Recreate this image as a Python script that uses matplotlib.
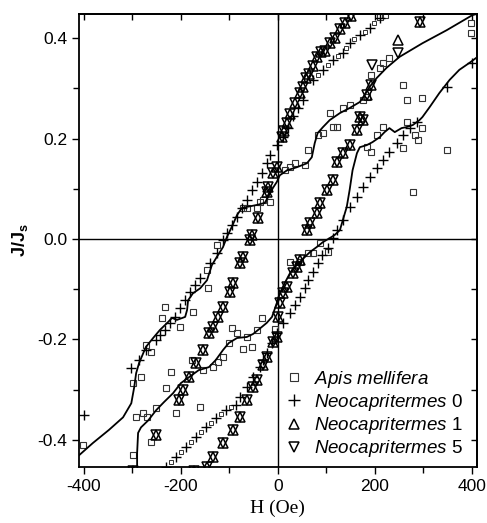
import numpy as np
import matplotlib
matplotlib.use('Agg')
import matplotlib.pyplot as plt
from matplotlib.ticker import MultipleLocator

plt.rcParams['font.family'] = ['Liberation Sans', 'DejaVu Sans']
plt.rcParams['axes.unicode_minus'] = False
plt.rcParams['mathtext.fontset'] = 'custom'
plt.rcParams['mathtext.it'] = 'Liberation Sans:italic'
plt.rcParams['mathtext.rm'] = 'Liberation Sans'
plt.rcParams['mathtext.bf'] = 'Liberation Sans:bold'

# ---- Apis mellifera : fitted loop (two branches) ----
apis_dn_h = [409, 401, 348, 298, 251, 224, 204, 189, 179, 169, 148, 128, 107, 93, 82, 76, 70, 60, 39, 19, 4, -2,
             -10, -21, -27, -43, -64, -74, -84, -95, -105, -113, -126, -136, -146, -160, -175, -185, -187, -191,
             -208, -218, -228, -243, -257, -272, -286, -292, -296, -302, -319, -348, -381, -409]
apis_dn_j = [0.448, 0.446, 0.416, 0.390, 0.363, 0.341, 0.321, 0.303, 0.287, 0.273, 0.261, 0.251, 0.237, 0.223,
             0.211, 0.191, 0.163, 0.151, 0.143, 0.137, 0.127, 0.114, 0.102, 0.082, 0.072, 0.068, 0.064, 0.062,
             0.048, 0.024, 0.004, -0.016, -0.036, -0.052, -0.082, -0.098, -0.108, -0.122, -0.141, -0.155,
             -0.161, -0.157, -0.167, -0.181, -0.197, -0.215, -0.247, -0.267, -0.295, -0.327, -0.355, -0.380,
             -0.406, -0.430]
apis_up_h = [-290, -290, -288, -282, -267, -251, -235, -216, -200, -183, -163, -142, -128, -113, -101, -84, -64,
             -51, -33, -23, -12, -2, 4, 14, 25, 35, 49, 66, 80, 93, 107, 117, 128, 134, 142, 148, 154, 163, 169,
             183, 195, 210, 220, 230, 241, 255, 265, 278, 292, 298, 313, 333, 354, 374, 395, 409]
apis_up_j = [-0.470, -0.426, -0.386, -0.375, -0.361, -0.341, -0.325, -0.307, -0.287, -0.275, -0.261, -0.255,
             -0.241, -0.221, -0.207, -0.197, -0.195, -0.189, -0.175, -0.167, -0.155, -0.127, -0.108, -0.088,
             -0.068, -0.056, -0.042, -0.026, -0.016, -0.006, 0.002, 0.008, 0.018, 0.038, 0.064, 0.098, 0.137,
             0.171, 0.183, 0.187, 0.193, 0.203, 0.213, 0.221, 0.213, 0.221, 0.223, 0.227, 0.237, 0.243, 0.263,
             0.291, 0.317, 0.337, 0.351, 0.361]

# ---- Apis mellifera : measured points ----
apis_h = [210, 220, 399, 399, 216, 230, 210, 193, 257, 267, 298, 134, 148, 175, 183, 107, 121, 216, 267, 298,
          282, 288, 257, 204, 183, 193, 348, 278, 82, 93, 113, 62, 56, 35, 25, 14, -37, -31, -16, -43, -64, -72,
          -126, -146, -144, -175, -233, -239, -202, -95, -84, -64, -43, -33, 25, 45, 62, 72, 86, 103, -6, -53,
          -72, -154, -134, -123, -113, -160, -272, -261, -282, -298, -220, -230, -251, -292, -278, -270, -261,
          -298, -401, -210, -177, -101]
apis_j = [0.442, 0.446, 0.430, 0.410, 0.351, 0.361, 0.341, 0.327, 0.307, 0.277, 0.281, 0.261, 0.267, 0.277,
          0.283, 0.251, 0.223, 0.223, 0.233, 0.221, 0.207, 0.197, 0.181, 0.207, 0.183, 0.173, 0.177, 0.094,
          0.207, 0.211, 0.223, 0.177, 0.147, 0.151, 0.143, 0.137, 0.074, 0.078, 0.074, 0.062, 0.062, 0.062,
          -0.012, -0.062, -0.098, -0.145, -0.135, -0.157, -0.175, -0.177, -0.187, -0.195, -0.181, -0.157,
          -0.046, -0.046, -0.028, -0.028, -0.008, -0.026, -0.179, -0.215, -0.219, -0.261, -0.255, -0.245,
          -0.235, -0.335, -0.211, -0.225, -0.275, -0.287, -0.265, -0.297, -0.337, -0.355, -0.347, -0.355,
          -0.404, -0.430, -0.410, -0.347, -0.241, -0.207]
# small squares mixed into the outer strips
apis_s_h = [-220, -200, -179, -158, -138, -117, -96, 82, 103, 124, 141, 158, 179, 199]
apis_s_j = [-0.444, -0.424, -0.404, -0.385, -0.366, -0.349, -0.335, 0.327, 0.347, 0.364, 0.380, 0.398, 0.413, 0.430]

# ---- Neocapritermes 0 ----
n0_h = [210, 189, 169, 148, 134, 113, 93, 72, 51, 41, 31, 20, 10, -2, -16, -23, -33, -43, -53, -64, -74, -84,
        -95, -105, -113, -125, -140, -160, -171, -181, -191, -202, -212, -222, -233, -243, -251, -272, -286,
        -302, -399,
        -231, -210, -189, -169, -148, -128, -107, -86, -78, -64, -51, -37, -31, -23, -12, -2, 10, 25, 35, 45,
        56, 62, 72, 82, 91, 103, 113, 121, 134, 148, 163, 175, 189, 204, 216, 230, 245, 257, 272, 286, 348, 401]
n0_j = [0.440, 0.420, 0.406, 0.390, 0.370, 0.357, 0.337, 0.317, 0.277, 0.262, 0.245, 0.222, 0.203, 0.187,
        0.167, 0.151, 0.131, 0.114, 0.098, 0.078, 0.062, 0.044, 0.028, 0.012, -0.002, -0.028, -0.048, -0.078,
        -0.092, -0.106, -0.122, -0.137, -0.155, -0.167, -0.181, -0.191, -0.201, -0.221, -0.241, -0.257,
        -0.351,
        -0.454, -0.434, -0.414, -0.394, -0.375, -0.357, -0.341, -0.330, -0.315, -0.295, -0.275, -0.255,
        -0.241, -0.227, -0.207, -0.187, -0.167, -0.147, -0.131, -0.116, -0.098, -0.082, -0.066, -0.048,
        -0.032, -0.018, 0.002, 0.018, 0.038, 0.064, 0.084, 0.104, 0.124, 0.141, 0.157, 0.173, 0.191, 0.207,
        0.221, 0.233, 0.303, 0.351]

# ---- Neocapritermes 1 / 5 (nearly on top of each other) ----
tri_h = [150, 138, 128, 118, 107, 98, 88, 80, 72, 64, 59, 51, 45, 35, 25, 19, 12, 8, -2, -10, -21, -23, -41,
         -53, -58, -72, -78, -93, -99, -113, -123, -134, -142, -154, -169, -183, -195, -204, -251, -298, -173,
         -146, -134, -113, -93, -78, -64, -51, -43, -31, -23, -10, -2, 0, 4, 10, 19, 31, 39, 45, 60, 66, 80, 86,
         101, 113, 121, 134, 148, 163, 175, 169, 183, 193, 292]
tri_j = [0.445, 0.430, 0.418, 0.400, 0.390, 0.375, 0.372, 0.362, 0.345, 0.328, 0.320, 0.303, 0.290, 0.270,
         0.250, 0.231, 0.215, 0.203, 0.143, 0.131, 0.104, 0.094, 0.042, 0.008, -0.002, -0.036, -0.048, -0.088,
         -0.106, -0.135, -0.155, -0.175, -0.187, -0.221, -0.247, -0.275, -0.300, -0.321, -0.390, -0.462,
         -0.462,
         -0.454, -0.434, -0.406, -0.380, -0.355, -0.321, -0.295, -0.281, -0.251, -0.235, -0.205, -0.195,
         -0.155, -0.127, -0.108, -0.096, -0.068, -0.056, -0.042, 0.018, 0.032, 0.052, 0.072, 0.098, 0.118,
         0.153, 0.171, 0.187, 0.217, 0.237, 0.243, 0.287, 0.307, 0.432]
n1_h = tri_h + [247]
n1_j = tri_j + [0.396]
n5_h = tri_h + [247, 195]
n5_j = tri_j + [0.370, 0.347]

fig = plt.figure(figsize=(4.87, 5.23), dpi=100)
ax = fig.add_axes([0.162, 0.107, 0.817, 0.866])

ax.axhline(0, color='black', lw=1.0, zorder=1)
ax.axvline(0, color='black', lw=1.0, zorder=1)

ax.plot(apis_dn_h, apis_dn_j, '-', color='black', lw=1.3, zorder=3)
ax.plot(apis_up_h, apis_up_j, '-', color='black', lw=1.3, zorder=3)

ax.plot(apis_h, apis_j, 's', mfc='none', mec='#333333', ms=5, mew=0.8, ls='none', label=r'$\mathit{Apis\ mellifera}$')
ax.plot(apis_s_h, apis_s_j, 's', mfc='none', mec='#333333', ms=3.5, mew=0.7, ls='none')
ax.plot(n0_h, n0_j, '+', color='black', ms=7, mew=1.0, ls='none', label=r'$\mathit{Neocapritermes}$ 0')
ax.plot(n1_h, n1_j, '^', mfc='none', mec='black', ms=6.5, mew=1.1, ls='none', label=r'$\mathit{Neocapritermes}$ 1')
ax.plot(n5_h, n5_j, 'v', mfc='none', mec='black', ms=6.5, mew=1.1, ls='none', label=r'$\mathit{Neocapritermes}$ 5')

ax.set_xlim(-410, 410)
ax.set_ylim(-0.454, 0.448)

ax.xaxis.set_major_locator(MultipleLocator(200))
ax.xaxis.set_minor_locator(MultipleLocator(100))
ax.yaxis.set_major_locator(MultipleLocator(0.2))
ax.yaxis.set_minor_locator(MultipleLocator(0.1))
ax.xaxis.set_major_formatter(matplotlib.ticker.FuncFormatter(lambda v, p: '%d' % v))
ax.yaxis.set_major_formatter(matplotlib.ticker.FuncFormatter(lambda v, p: '%.1f' % v))

ax.tick_params(which='both', direction='out', top=False, right=False, width=1.0, labelsize=12.5)
ax.tick_params(which='major', length=5)
ax.tick_params(which='minor', length=4)

# inward ticks on top and right
sx = ax.secondary_xaxis('top')
sx.xaxis.set_major_locator(MultipleLocator(100))
sx.tick_params(direction='in', length=4, width=1.0, labeltop=False)
sy = ax.secondary_yaxis('right')
sy.yaxis.set_major_locator(MultipleLocator(0.1))
sy.tick_params(direction='in', length=4, width=1.0, labelright=False)

for s in ax.spines.values():
    s.set_linewidth(1.3)
sx.spines['top'].set_linewidth(1.3)
sy.spines['right'].set_linewidth(1.3)

ax.set_xlabel('H (Oe)', family='Liberation Serif', fontsize=14, labelpad=4)
ax.set_ylabel(r'J/J$_\mathbf{s}$', family='Liberation Sans', fontsize=13, fontweight='bold', labelpad=5)

leg = ax.legend(loc='lower right', bbox_to_anchor=(1.0, -0.012), frameon=False, fontsize=13.5,
                handlelength=1.0, handletextpad=0.6, labelspacing=0.12, borderaxespad=0.3, markerscale=1.2)

fig.savefig('out.png', dpi=100)
